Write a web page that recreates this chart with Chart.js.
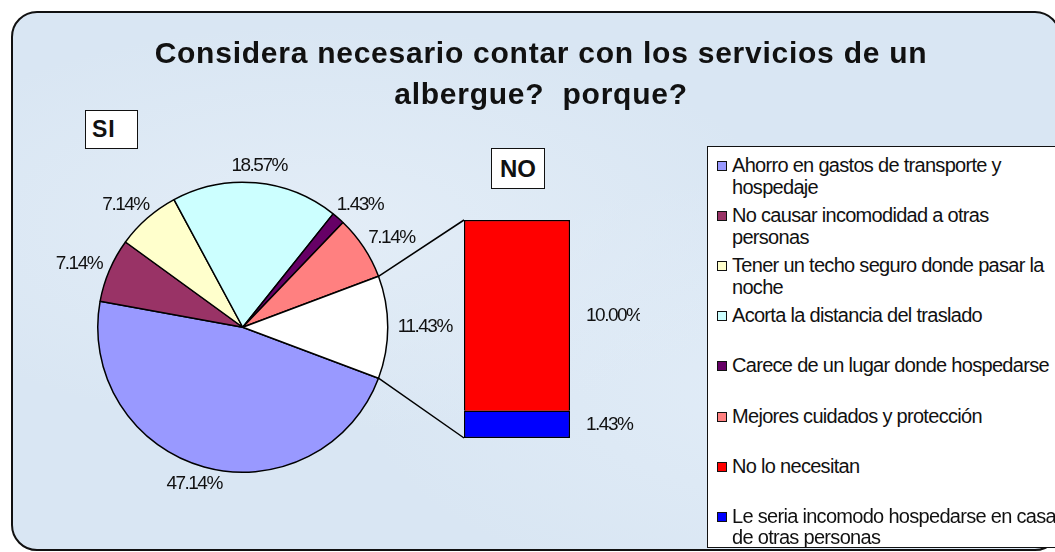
<!DOCTYPE html>
<html>
<head>
<meta charset="utf-8">
<script src="https://cdn.jsdelivr.net/npm/chart.js@4.4.1/dist/chart.umd.min.js"></script>
<style>
  html, body { margin: 0; padding: 0; width: 1055px; height: 552px; overflow: hidden; background: #fff; font-family: "Liberation Sans", Arial, sans-serif; color: #111; }
  #frame { position: absolute; left: 11px; top: 11px; width: 1050px; height: 540px; box-sizing: border-box; border: 2px solid #111; border-radius: 26px;
    background: radial-gradient(ellipse at 30% 40%, #e3edf7 0%, rgba(227,237,247,0) 45%), radial-gradient(ellipse at 75% 70%, #e1ecf7 0%, rgba(225,236,247,0) 40%), #d9e6f3; }
  #title { position: absolute; left: 0; width: 1082px; top: 31.5px; text-align: center; font-weight: bold; font-size: 30px; line-height: 41px; letter-spacing: 0.75px; }
  .tag { position: absolute; box-sizing: border-box; border: 1.5px solid #111; background: #fff; font-weight: bold; display: flex; align-items: center; }
  #si { left: 85px; top: 110px; width: 53px; height: 39px; font-size: 23px; padding-left: 6px; letter-spacing: 1px; }
  #no { left: 491px; top: 148px; width: 54px; height: 41px; font-size: 24px; justify-content: center; }
  canvas { position: absolute; }
  #pieChart { left: 0; top: 0; }
  #barChart { left: 440px; top: 200px; }
  #legend { position: absolute; left: 707px; top: 146px; width: 400px; height: 402px; box-sizing: border-box; border: 1.5px solid #111; background: #fff; }
  .item { position: absolute; left: 24px; font-size: 20px; line-height: 21.5px; letter-spacing: -0.7px; white-space: nowrap; }
  .item i { position: absolute; left: -15px; top: 6px; width: 8px; height: 8px; border: 1px solid #111; }
</style>
</head>
<body>
<div id="frame"></div>
<canvas id="pieChart" width="1055" height="552"></canvas>
<canvas id="barChart" width="200" height="260"></canvas>
<div id="title">Considera necesario contar con los servicios de un<br>albergue?&nbsp; porque?</div>
<div class="tag" id="si">SI</div>
<div class="tag" id="no">NO</div>
<div id="legend"></div>
<script>
// "SI" answers (pie)
const pieLabels = [
  ['Ahorro en gastos de transporte y', 'hospedaje'],
  ['No causar incomodidad a otras', 'personas'],
  ['Tener un techo seguro donde pasar la', 'noche'],
  ['Acorta la distancia del traslado'],
  ['Carece de un lugar donde hospedarse'],
  ['Mejores cuidados y protección']
];
const pieValues = [47.14, 7.14, 7.14, 18.57, 1.43, 7.14];
const pieColors = ['#9999ff', '#993366', '#ffffcc', '#ccffff', '#660066', '#ff8080'];

// "NO" answers (bar)
const barLabels = [
  ['No lo necesitan'],
  ['Le seria incomodo hospedarse en casa', 'de otras personas']
];
const barValues = [10.00, 1.43];
const barColors = ['#ff0000', '#0000ff'];

const otherValue = barValues.reduce((a, b) => a + b, 0);
const total = pieValues.reduce((a, b) => a + b, 0) + otherValue;
const LABEL_FONT = '19px "Liberation Sans", Arial, sans-serif';
const LABEL_SPACING = '-1.5px';
const fmt = v => v.toFixed(2) + '%';

// Legend
const legendEl = document.getElementById('legend');
const allLabels = pieLabels.concat(barLabels);
const allColors = pieColors.concat(barColors);
legendEl.innerHTML = allLabels.map((lines, i) => `
  <div class="item" style="top:${8 + i * 50.1}px"><i style="background:${allColors[i]}"></i>${lines.join('<br>')}</div>
`).join('');

// Bar of the "other" slice
const barLabelPlugin = {
  id: 'barLabels',
  afterDatasetsDraw(chart) {
    const ctx = chart.ctx;
    ctx.save();
    ctx.font = LABEL_FONT;
    ctx.letterSpacing = LABEL_SPACING;
    ctx.fillStyle = '#111';
    ctx.textAlign = 'left';
    ctx.textBaseline = 'middle';
    chart.data.datasets.forEach((ds, i) => {
      const bar = chart.getDatasetMeta(i).data[0];
      ctx.fillText(fmt(ds.data[0]), bar.x + bar.width / 2 + 16, (bar.y + bar.base) / 2);
    });
    ctx.restore();
  }
};

const barChart = new Chart(document.getElementById('barChart'), {
  type: 'bar',
  data: {
    labels: [''],
    datasets: barValues.map((v, i) => ({
      label: barLabels[i].join(' '),
      data: [v],
      backgroundColor: barColors[i],
      borderColor: '#000',
      borderWidth: i === 0 ? { top: 1.5, left: 1.5, right: 1.5, bottom: 0 } : 1.5,
      borderSkipped: false,
      categoryPercentage: 1,
      barPercentage: 1
    })).reverse()
  },
  options: {
    responsive: false,
    animation: false,
    layout: { padding: { left: 24, right: 70, top: 20, bottom: 22 } },
    scales: {
      x: { display: false, stacked: true },
      y: { display: false, stacked: true, min: 0, max: otherValue }
    },
    plugins: { legend: { display: false }, tooltip: { enabled: false } }
  },
  plugins: [barLabelPlugin]
});

// Pie labels + connector lines to the bar
const pieExtrasPlugin = {
  id: 'pieExtras',
  afterDatasetsDraw(chart) {
    const ctx = chart.ctx;
    const arcs = chart.getDatasetMeta(0).data;
    const values = chart.data.datasets[0].data;
    ctx.save();
    ctx.font = LABEL_FONT;
    ctx.letterSpacing = LABEL_SPACING;
    ctx.fillStyle = '#111';
    ctx.textAlign = 'center';
    ctx.textBaseline = 'middle';
    arcs.forEach((arc, i) => {
      const mid = (arc.startAngle + arc.endAngle) / 2;
      const text = fmt(values[i]);
      const w = ctx.measureText(text).width;
      const h = 14;
      const c = Math.cos(mid), s = Math.sin(mid);
      const x = arc.x + (arc.outerRadius + 10) * c + (w / 2) * c;
      const y = arc.y + (arc.outerRadius + 10) * s + (h / 2) * s;
      ctx.fillText(text, x, y);
    });

    const other = arcs[arcs.length - 1];
    const box = barChart.canvas;
    const ox = box.offsetLeft, oy = box.offsetTop;
    const metas = barChart.data.datasets.map((d, i) => barChart.getDatasetMeta(i).data[0]);
    const top = metas[metas.length - 1];
    const bottom = metas[0];
    const bx = ox + top.x - top.width / 2;
    ctx.strokeStyle = '#000';
    ctx.lineWidth = 1.5;
    ctx.beginPath();
    ctx.moveTo(other.x + other.outerRadius * Math.cos(other.startAngle), other.y + other.outerRadius * Math.sin(other.startAngle));
    ctx.lineTo(bx, oy + top.y);
    ctx.moveTo(other.x + other.outerRadius * Math.cos(other.endAngle), other.y + other.outerRadius * Math.sin(other.endAngle));
    ctx.lineTo(bx, oy + bottom.base);
    ctx.stroke();
    ctx.restore();
  }
};

new Chart(document.getElementById('pieChart'), {
  type: 'pie',
  data: {
    labels: pieLabels.map(l => l.join(' ')).concat(['Otros']),
    datasets: [{
      data: pieValues.concat([otherValue]),
      backgroundColor: pieColors.concat(['#ffffff']),
      borderColor: '#000',
      borderWidth: 1.5
    }]
  },
  options: {
    responsive: false,
    animation: false,
    rotation: 90 + (otherValue / total) * 180,
    layout: { padding: { left: 97, top: 181.5, right: 666.5, bottom: 79 } },
    plugins: { legend: { display: false }, tooltip: { enabled: false } }
  },
  plugins: [pieExtrasPlugin]
});
</script>
</body>
</html>
